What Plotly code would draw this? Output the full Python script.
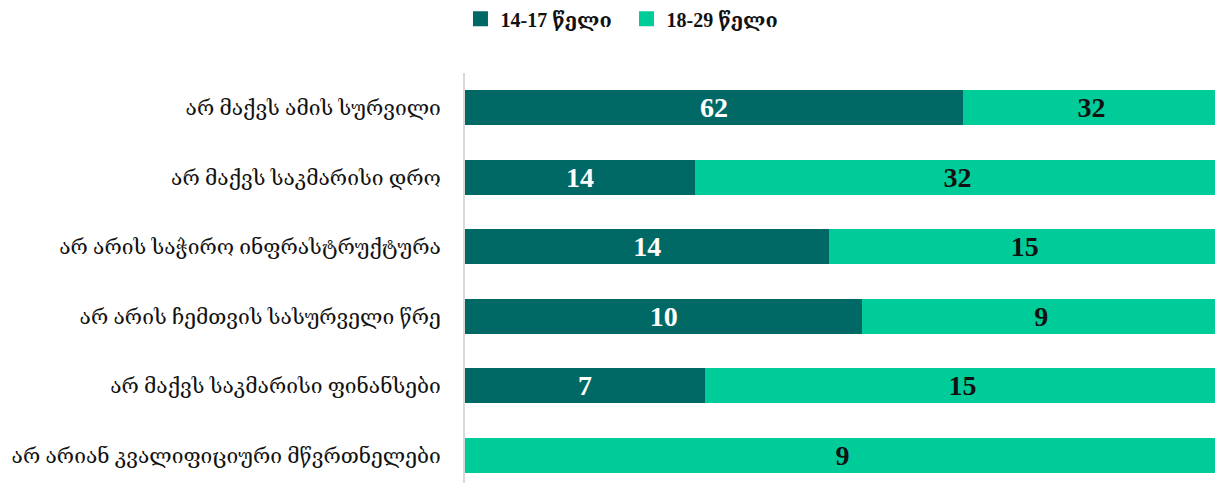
import plotly.graph_objects as go

categories = [
    "არ მაქვს ამის სურვილი",
    "არ მაქვს საკმარისი დრო",
    "არ არის საჭირო ინფრასტრუქტურა",
    "არ არის ჩემთვის სასურველი წრე",
    "არ მაქვს საკმარისი ფინანსები",
    "არ არიან კვალიფიციური მწვრთნელები",
]
series_names = ["14-17 წელი", "18-29 წელი"]
values_1417 = [62, 14, 14, 10, 7, 0]
values_1829 = [32, 32, 15, 9, 15, 9]
colors = ["#006966", "#00CC99"]

FONT = "Liberation Serif, DejaVu Serif, DejaVu Sans, serif"

fig = go.Figure()
for name, vals, col, tcol in [
    (series_names[0], values_1417, colors[0], "white"),
    (series_names[1], values_1829, colors[1], "#111111"),
]:
    fig.add_trace(go.Bar(
        y=categories, x=vals, name=name, orientation="h",
        marker=dict(color=col, line=dict(width=0)),
        text=[str(v) if v else "" for v in vals],
        texttemplate="%{text}",
        textposition="inside", insidetextanchor="middle",
        textfont=dict(family=FONT, size=28, color=tcol, weight="bold"),
        textangle=0, constraintext="none",
        hoverinfo="skip", showlegend=False,
    ))

# legend entries with square markers
for name, col in zip(series_names, colors):
    fig.add_trace(go.Scatter(
        x=[None], y=[None], mode="markers", name=name,
        marker=dict(symbol="square", size=15, color=col),
        hoverinfo="skip",
    ))

fig.update_layout(
    barmode="stack", barnorm="percent", bargap=0.5,
    width=1215, height=475,
    margin=dict(l=457, r=3, t=65, b=0, autoexpand=False),
    paper_bgcolor="white", plot_bgcolor="white",
    showlegend=True,
    legend=dict(orientation="h", x=-0.006, xanchor="left", y=1.18, yanchor="top",
                font=dict(family=FONT, size=20, color="#111111", weight="bold"),
                itemwidth=30, traceorder="normal", entrywidth=121),
    xaxis=dict(visible=False, range=[0, 100], fixedrange=True),
    yaxis=dict(categoryorder="array", categoryarray=categories,
               range=[5.4, -0.5], showline=True, linecolor="#d9d9d9", linewidth=2,
               showgrid=False, ticks="", ticklabelstandoff=18, automargin=False,
               tickfont=dict(family=FONT, size=21, color="#111111")),
)

fig.write_html("out.html")
